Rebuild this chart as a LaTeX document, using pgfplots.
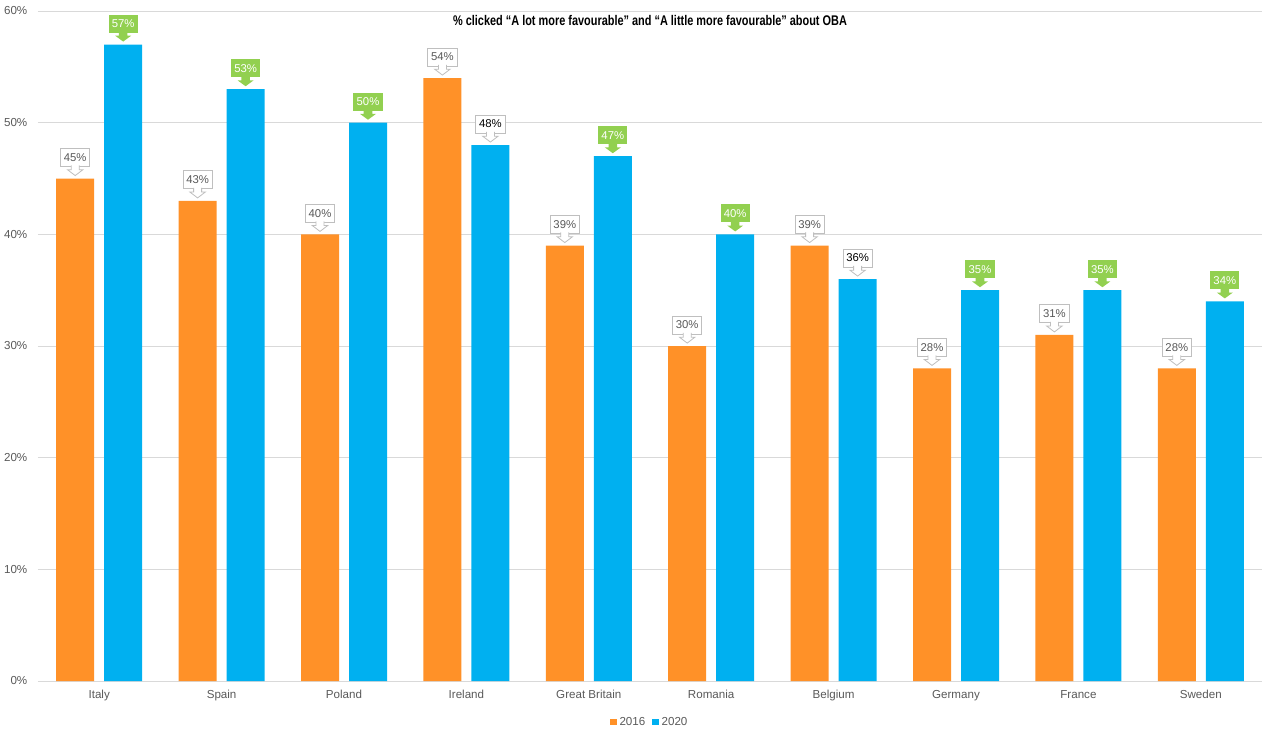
\documentclass[border=0pt]{standalone}
\usepackage{pgfplots}
\pgfplotsset{compat=1.18}
\usepackage{fontspec}
\setmainfont{Liberation Sans}
\newfontfamily\titlefont{Liberation Sans}[FakeStretch=0.78]
\definecolor{c16}{RGB}{255,145,40}
\definecolor{c20}{RGB}{0,176,240}
\definecolor{lgreen}{RGB}{146,208,80}
\definecolor{txtgray}{RGB}{89,89,89}
\definecolor{gridgray}{RGB}{217,217,217}
\definecolor{boxgray}{RGB}{191,191,191}
\pgfdeclareplotmark{calw}{%
  \path[fill=white, draw=boxgray, line width=0.6pt] (-11pt,9pt) rectangle (11pt,22.5pt);
  \path[fill=white, draw=boxgray, line width=0.6pt, line join=miter] (-3pt,9.8pt) -- (-3pt,6.6pt) -- (-5.8pt,6.6pt) -- (0pt,2.2pt) -- (5.8pt,6.6pt) -- (3pt,6.6pt) -- (3pt,9.8pt);
}
\pgfdeclareplotmark{calg}{%
  \path[fill=lgreen, draw=none] (-11pt,9pt) rectangle (11pt,22.5pt);
  \path[fill=lgreen, draw=none] (-3.2pt,9.5pt) -- (-3.2pt,6.6pt) -- (-6pt,6.6pt) -- (0pt,2.2pt) -- (6pt,6.6pt) -- (3.2pt,6.6pt) -- (3.2pt,9.5pt) -- cycle;
}
\begin{document}
\begin{tikzpicture}
\useasboundingbox (-28.5pt,-36pt) rectangle (918.75pt,510.75pt);
\begin{axis}[
  at={(0,0)}, anchor=south west,
  scale only axis, width=918pt, height=502.5pt,
  xmin=-0.5, xmax=9.5, ymin=0, ymax=60,
  clip=false,
  xtick={0,...,9},
  xticklabels={Italy,Spain,Poland,Ireland,Great Britain,Romania,Belgium,Germany,France,Sweden},
  ytick={0,10,...,60},
  yticklabel={\pgfmathprintnumber{\tick}\%},
  /pgf/number format/assume math mode=true,
  ymajorgrids, grid style={gridgray, line width=0.75pt},
  axis line style={draw=none}, tick style={draw=none},
  ticklabel style={font=\fontsize{8.7}{10}\selectfont, text=txtgray},
  xticklabel style={yshift=-3.6pt},
  yticklabel style={xshift=-4.5pt},
  legend style={at={(0.5,0)}, anchor=center, yshift=-30.75pt, draw=none, fill=none, legend columns=2, font=\fontsize{8.7}{10}\selectfont, text=txtgray, /tikz/every even column/.append style={column sep=3pt}},
  lblplot/.style={only marks, forget plot, point meta=y,
    nodes near coords={\pgfmathprintnumber{\pgfplotspointmeta}\%},
    nodes near coords style={anchor=center, yshift=15.75pt, inner sep=0pt, font=\fontsize{8.5}{9}\selectfont}},
]
\addplot[ybar, bar width=28.5pt, bar shift=-18pt, fill=c16, draw=none,
  legend image code/.code={\fill[c16] (0pt,-2.6pt) rectangle (5.2pt,2.6pt);}]
  coordinates {(0,45) (1,43) (2,40) (3,54) (4,39) (5,30) (6,39) (7,28) (8,31) (9,28)};
\addlegendentry{2016}
\addplot[ybar, bar width=28.5pt, bar shift=18pt, fill=c20, draw=none,
  legend image code/.code={\fill[c20] (0pt,-2.6pt) rectangle (5.2pt,2.6pt);}]
  coordinates {(0,57) (1,53) (2,50) (3,48) (4,47) (5,40) (6,36) (7,35) (8,35) (9,34)};
\addlegendentry{2020}
% labels 2016
\addplot[lblplot, mark=calw, nodes near coords style={text=txtgray}]
  coordinates {(-0.19608,45) (0.80392,43) (1.80392,40) (2.80392,54) (3.80392,39) (4.80392,30) (5.80392,39) (6.80392,28) (7.80392,31) (8.80392,28)};
% labels 2020 (higher than 2016)
\addplot[lblplot, mark=calg, nodes near coords style={text=white}]
  coordinates {(0.19608,57) (1.19608,53) (2.19608,50) (4.19608,47) (5.19608,40) (7.19608,35) (8.19608,35) (9.19608,34)};
% labels 2020 (lower than 2016)
\addplot[lblplot, mark=calw, nodes near coords style={text=black}]
  coordinates {(3.19608,48) (6.19608,36)};
\node[font=\titlefont\bfseries\fontsize{10.5}{12}\selectfont] at (rel axis cs:0.5,1) [yshift=-6.75pt] {\% clicked “A lot more favourable” and “A little more favourable” about OBA};
\end{axis}
\end{tikzpicture}
\end{document}
